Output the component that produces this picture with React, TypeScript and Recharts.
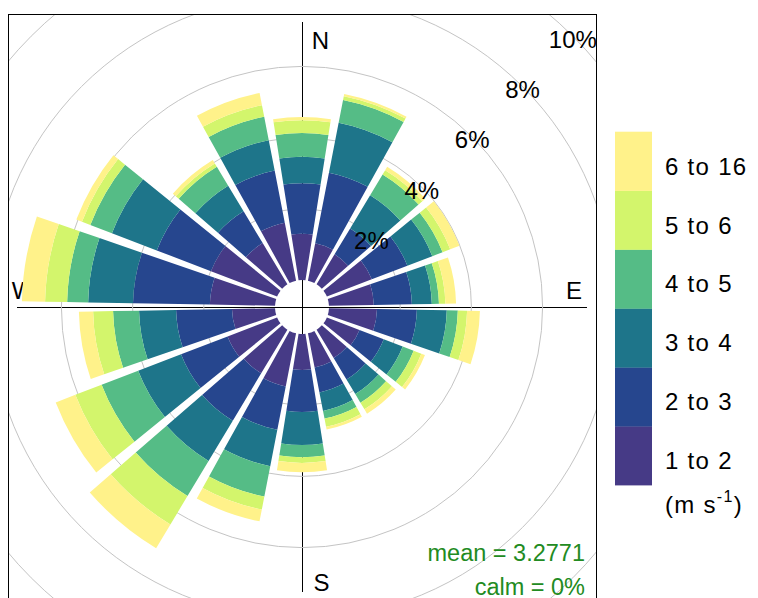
import React from 'react';
import { RadialBarChart, RadialBar, PolarGrid, PolarAngleAxis, PolarRadiusAxis } from 'recharts';

// wind direction sectors (degrees, clockwise from north)
const directions = ['0', '20', '40', '60', '80', '100', '120', '140', '160', '180', '200', '220', '240', '260', '280', '300', '320', '340'];
// frequency (%) per wind-speed bin and direction
const ws1to2 = [1.30, 1.07, 0.98, 1.35, 1.26, 1.35, 0.98, 0.93, 0.98, 1.01, 1.52, 1.43, 1.49, 1.21, 1.83, 1.99, 1.35, 1.66];
const ws2to3 = [1.42, 2.02, 0.85, 1.07, 1.07, 1.12, 0.73, 0.70, 0.71, 1.18, 1.24, 1.55, 1.40, 1.57, 2.16, 1.63, 1.04, 1.49];
const ws3to4 = [0.74, 1.43, 1.09, 0.75, 0.56, 0.84, 0.57, 0.48, 0.53, 0.93, 1.04, 1.32, 1.29, 1.04, 1.26, 1.35, 0.84, 0.87];
const ws4to5 = [0.67, 0.65, 0.68, 0.31, 0.20, 0.31, 0.33, 0.28, 0.22, 0.34, 0.87, 1.15, 1.10, 0.73, 0.59, 0.65, 0.62, 0.67];
const ws5to6 = [0.36, 0.11, 0.14, 0.23, 0.18, 0.26, 0.23, 0.22, 0.23, 0.16, 0.37, 0.93, 0.79, 0.56, 0.62, 0.25, 0.11, 0.33];
const ws6to16 = [0.09, 0.06, 0.11, 0.28, 0.30, 0.36, 0.11, 0.14, 0.08, 0.26, 0.34, 0.78, 0.59, 0.40, 0.65, 0.17, 0.11, 0.35];

const binLabels = ['1 to 2', '2 to 3', '3 to 4', '4 to 5', '5 to 6', '6 to 16'];
const binColors = ['#463A86', '#26468E', '#1E758A', '#55BC86', '#D3F56C', '#FFF28A'];
const binKeys = ['b1', 'b2', 'b3', 'b4', 'b5', 'b6'];
const binSeries = [ws1to2, ws2to3, ws3to4, ws4to5, ws5to6, ws6to16];
const ringTicks = [2, 4, 6, 8, 10];
const radiusDomain = [0, 10];
const compass = ['N', 'E', 'S', 'W'];
const meanText = 'mean = 3.2771';
const calmText = 'calm = 0%';
const unitText = ['(m s', '-1', ')'];

const data = directions.map((dir, i) => {
  const row: any = { dir };
  binKeys.forEach((k, j) => { row[k] = binSeries[j][i]; });
  return row;
});

const FONT = '"Liberation Sans", Arial, Helvetica, sans-serif';
const PW = 589;
const PH = 587;
const CX = 294;
const CY = 293;
const GAP = 0.8;
const RAD = Math.PI / 180;

function polar(cx: number, cy: number, r: number, a: number) {
  return `${(cx + r * Math.cos(-a * RAD)).toFixed(2)},${(cy + r * Math.sin(-a * RAD)).toFixed(2)}`;
}

function Wedge(props: any) {
  const { cx, cy, innerRadius, outerRadius, startAngle, endAngle, fill } = props;
  if (!(outerRadius > innerRadius)) return null;
  const lo = Math.min(startAngle, endAngle);
  const hi = Math.max(startAngle, endAngle);
  const dOut = Math.asin(Math.min(1, GAP / outerRadius)) / RAD;
  const dIn = innerRadius > GAP ? Math.asin(GAP / innerRadius) / RAD : 0;
  const d = `M${polar(cx, cy, outerRadius, lo + dOut)} A${outerRadius},${outerRadius} 0 0 0 ${polar(cx, cy, outerRadius, hi - dOut)} L${polar(cx, cy, innerRadius, hi - dIn)} A${innerRadius},${innerRadius} 0 0 1 ${polar(cx, cy, innerRadius, lo + dIn)} Z`;
  return <path d={d} fill={fill} stroke="none" />;
}

function RingTick(props: any) {
  const { x, y, payload } = props;
  if (!payload || payload.value === 0) return null;
  return (
    <text x={x} y={y + 11.5} textAnchor="middle" fontSize={24} fontFamily={FONT} fill="#000">
      {`${payload.value}%`}
    </text>
  );
}

export default function App() {
  const compassPos: Record<string, [number, number]> = {
    N: [CX + 18.5, CY - 258.5],
    E: [CX + 272, CY - 8.5],
    S: [CX + 19.5, CY + 284],
    W: [CX - 279, CY - 8.5],
  };
  const rowH = 58.9;
  return (
    <div style={{ position: 'relative', width: 750, height: 590, fontFamily: FONT }}>
      <div style={{ position: 'absolute', left: 0, top: 6, width: PW, height: PH, overflow: 'hidden' }}>
        <svg width={PW} height={PH} style={{ position: 'absolute', left: 0, top: 0 }}>
          <line x1={CX + 0.5} y1={CY - 285} x2={CX + 0.5} y2={CY + 285} stroke="#000" strokeWidth={1} />
          <line x1={CX - 285} y1={CY + 0.5} x2={CX + 285} y2={CY + 0.5} stroke="#000" strokeWidth={1} />
          {compass.map((c) => (
            <text key={c} x={compassPos[c][0]} y={compassPos[c][1]} textAnchor="middle" fontSize={24} fontFamily={FONT} fill="#000">
              {c}
            </text>
          ))}
        </svg>
        <div style={{ position: 'absolute', left: 0, top: 0 }}>
          <RadialBarChart
            width={PW}
            height={PH}
            data={data}
            layout="centric"
            cx={CX}
            cy={CY}
            innerRadius={27}
            outerRadius={383}
            startAngle={80}
            endAngle={-280}
            barCategoryGap="5%"
            barGap={0}
            margin={{ top: 0, right: 0, bottom: 0, left: 0 }}
          >
            <PolarGrid gridType="circle" radialLines={false} stroke="#c4c4c4" strokeWidth={1} />
            <PolarAngleAxis type="category" dataKey="dir" tick={false} axisLine={false} tickLine={false} />
            {binKeys.map((k, j) => (
              <RadialBar
                key={k}
                dataKey={k}
                name={binLabels[j]}
                stackId="ws"
                fill={binColors[j]}
                shape={Wedge}
                isAnimationActive={false}
              />
            ))}
            <PolarRadiusAxis
              type="number"
              domain={radiusDomain}
              ticks={ringTicks}
              tickCount={6}
              angle={45}
              axisLine={false}
              tickLine={false}
              tick={RingTick}
            />
          </RadialBarChart>
        </div>
        <svg width={PW} height={PH} style={{ position: 'absolute', left: 0, top: 0, pointerEvents: 'none' }}>
          <rect x={0.5} y={0.5} width={PW - 1} height={PH - 1} fill="none" stroke="#000" strokeWidth={1} />
          <text x={577} y={546.5} textAnchor="end" fontSize={23.5} fontFamily={FONT} fill="#228B22">{meanText}</text>
          <text x={577} y={581} textAnchor="end" fontSize={23.5} fontFamily={FONT} fill="#228B22">{calmText}</text>
        </svg>
      </div>
      <svg width={158} height={420} style={{ position: 'absolute', left: 592, top: 112 }}>
        {binLabels.map((lab, j) => {
          const row = binLabels.length - 1 - j;
          const y0 = 11.7 + row * rowH;
          return (
            <g key={lab}>
              <rect x={15} y={y0} width={37} height={rowH + 0.3} fill={binColors[j]} />
              <text x={65} y={y0 + rowH / 2 + 13.5} fontSize={24} letterSpacing={1.3} fontFamily={FONT} fill="#000">{lab}</text>
            </g>
          );
        })}
        <text x={65} y={393} fontSize={24} letterSpacing={1.3} fontFamily={FONT} fill="#000">
          {unitText[0]}
          <tspan fontSize={16} dy={-11}>{unitText[1]}</tspan>
          <tspan dy={11}>{unitText[2]}</tspan>
        </text>
      </svg>
    </div>
  );
}
